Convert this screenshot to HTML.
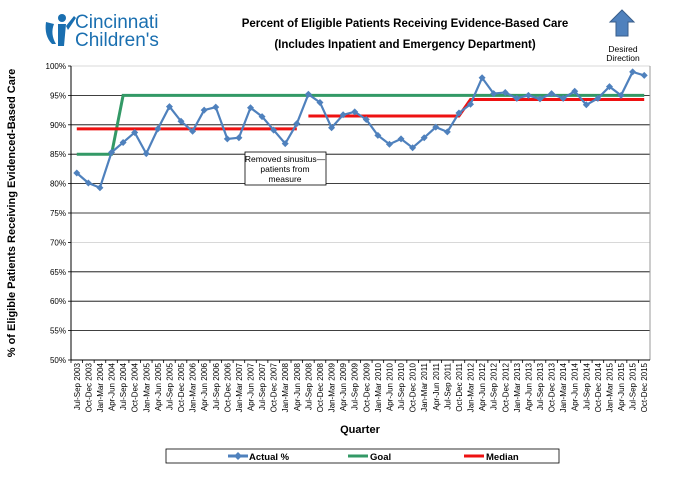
<!DOCTYPE html>
<html><head><meta charset="utf-8"><style>
body{margin:0;background:#fff;font-family:"Liberation Sans",sans-serif}
svg text{font-family:"Liberation Sans",sans-serif}
</style></head><body>
<svg id="c" width="678" height="480" xmlns="http://www.w3.org/2000/svg">
<g>
<circle cx="62" cy="18" r="4" fill="#1a6fb0"/>
<path d="M46 22 Q44 36 52 44 L56 44 Q50 34 54 24 Z" fill="#1a6fb0"/>
<path d="M58 24 L66 24 L64 46 L58 46 Z M66 26 L74 16 L76 18 L68 30 Z" fill="#1a6fb0"/>
<text x="75" y="28" font-size="19" fill="#1a6fb0">Cincinnati</text>
<text x="75" y="46" font-size="19" fill="#1a6fb0">Children's</text>
</g>
<text x="405" y="27" font-size="11.5" font-weight="bold" text-anchor="middle">Percent of Eligible Patients Receiving Evidence-Based Care</text>
<text x="405" y="48" font-size="11.5" font-weight="bold" text-anchor="middle">(Includes Inpatient and Emergency Department)</text>
<path d="M622 10 L634 22 L628 22 L628 36 L616 36 L616 22 L610 22 Z" fill="#4f81bd" stroke="#385d8a"/>
<text x="623" y="52" font-size="8.5" text-anchor="middle">Desired</text>
<text x="623" y="61" font-size="8.5" text-anchor="middle">Direction</text>
<g id="grid"></g>
<g id="xl"></g>
<g id="series"></g>
<g>
<rect x="245" y="152" width="81" height="33" fill="#fff" stroke="#000" stroke-width="0.8"/>
<text x="285" y="162" font-size="8.5" text-anchor="middle">Removed sinusitus—</text>
<text x="285" y="172" font-size="8.5" text-anchor="middle">patients from</text>
<text x="285" y="182" font-size="8.5" text-anchor="middle">measure</text>
</g>
<text transform="translate(15,213) rotate(-90)" font-size="11" font-weight="bold" text-anchor="middle">% of Eligible Patients Receiving Evidenced-Based Care</text>
<text x="360" y="433" font-size="11" font-weight="bold" text-anchor="middle">Quarter</text>
<g>
<rect x="166" y="449" width="393" height="14" fill="#fff" stroke="#000" stroke-width="0.8"/>
<line x1="228" y1="456" x2="248" y2="456" stroke="#4f81bd" stroke-width="3"/>
<path d="M238 452 L242 456 L238 460 L234 456 Z" fill="#4f81bd"/>
<text x="249" y="460" font-size="9.5" font-weight="bold">Actual %</text>
<line x1="348" y1="456" x2="368" y2="456" stroke="#339966" stroke-width="3"/>
<text x="370" y="460" font-size="9.5" font-weight="bold">Goal</text>
<line x1="464" y1="456" x2="484" y2="456" stroke="#ee1111" stroke-width="3"/>
<text x="486" y="460" font-size="9.5" font-weight="bold">Median</text>
</g>
</svg>
<script>
const categories=(function(){const q=["Jul-Sep","Oct-Dec","Jan-Mar","Apr-Jun"];const a=[];for(let i=0;i<50;i++){const yr=2003+Math.floor((i+2)/4);a.push(q[i%4]+" "+yr);}return a;})();
const actual=[81.8,80.1,79.3,85.3,87.0,88.7,85.1,89.3,93.1,90.6,88.9,92.5,93.0,87.6,87.8,92.9,91.4,89.1,86.8,90.2,95.2,93.8,89.5,91.7,92.2,90.9,88.2,86.7,87.6,86.1,87.8,89.6,88.8,92.0,93.5,98.0,95.3,95.5,94.5,95.0,94.4,95.3,94.5,95.7,93.4,94.5,96.5,95.0,99.0,98.4];
const goal=[85,85,85,85,95,95,95,95,95,95,95,95,95,95,95,95,95,95,95,95,95,95,95,95,95,95,95,95,95,95,95,95,95,95,95,95,95,95,95,95,95,95,95,95,95,95,95,95,95,95];
const medianA=[89.3,89.3,89.3,89.3,89.3,89.3,89.3,89.3,89.3,89.3,89.3,89.3,89.3,89.3,89.3,89.3,89.3,89.3,89.3,89.3];
const medianB=[91.5,91.5,91.5,91.5,91.5,91.5,91.5,91.5,91.5,91.5,91.5,91.5,91.5,91.5,94.3,94.3,94.3,94.3,94.3,94.3,94.3,94.3,94.3,94.3,94.3,94.3,94.3,94.3,94.3,94.3];
const yTicks=[50,55,60,65,70,75,80,85,90,95,100];
const NS="http://www.w3.org/2000/svg";
const L=71,R=650,T=66,B=360,yMin=50,yMax=100;
const bw=(R-L)/categories.length;
const x=i=>L+bw*(i+0.5);
const y=v=>B-(v-yMin)/(yMax-yMin)*(B-T);
function mk(t,a,p){const e=document.createElementNS(NS,t);for(const k in a)e.setAttribute(k,a[k]);p.appendChild(e);return e;}
const grid=document.getElementById('grid');
yTicks.forEach(v=>{
 const gl=mk('line',{x1:L,x2:R,y1:y(v),y2:y(v),stroke:v==100||v==70||v==50?'#ccc':'#000','stroke-width':v==50?0:0.8},grid);
 
 
 const t=mk('text',{x:L-5,y:y(v)+3,'font-size':8,'text-anchor':'end'},grid);t.textContent=v+'%';
 
 
 mk('line',{x1:L-3,x2:L,y1:y(v),y2:y(v),stroke:'#000','stroke-width':0.8},grid);
});
mk('line',{x1:L,x2:L,y1:T,y2:B,stroke:'#000','stroke-width':1},grid);
mk('line',{x1:R,x2:R,y1:T,y2:B,stroke:'#999','stroke-width':1},grid);
mk('line',{x1:L,x2:R,y1:B,y2:B,stroke:'#000','stroke-width':1},grid);
const xl=document.getElementById('xl');
categories.forEach((c,i)=>{
 mk('line',{x1:L+bw*i,x2:L+bw*i,y1:B,y2:B+3,stroke:'#000','stroke-width':0.8},xl);
 const t=mk('text',{transform:`translate(${x(i)+3},${B+3}) rotate(-90)`,'font-size':8,'text-anchor':'end'},xl);t.textContent=c;
 
 
});
const s=document.getElementById('series');
function line(vals,off,col,w,name){const p=mk('polyline',{points:vals.map((v,i)=>x(i+off)+','+y(v)).join(' '),fill:'none',stroke:col,'stroke-width':w},s);
 
 }
line(goal,0,'#339966',3,'goal-line');
line(medianA,0,'#ee1111',3,'median-line-1');
line(medianB,20,'#ee1111',3,'median-line-2');
line(actual,0,'#4f81bd',2.2,'actual-line');
actual.forEach((v,i)=>{const px=x(i),py=y(v);
 const m=mk('path',{d:`M${px} ${py-3.5} L${px+3.5} ${py} L${px} ${py+3.5} L${px-3.5} ${py} Z`,fill:'#4f81bd'},s);
 
 });
</script>
</body></html>
